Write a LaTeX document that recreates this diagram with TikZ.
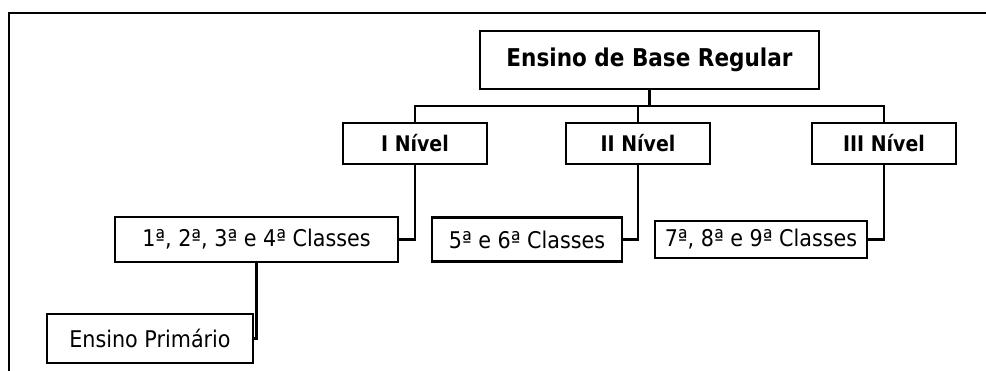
\documentclass[tikz,border=0pt]{standalone}
\usepackage{fontspec}
\setmainfont[FakeStretch=0.9]{DejaVu Sans}
\newfontfamily\narrowbold[FakeStretch=0.88]{DejaVu Sans Bold}
\usepackage{tikz}

\begin{document}
\begin{tikzpicture}[x=1pt, y=-1pt, line width=2.3pt,
    box/.style={draw, inner sep=0pt, font=\fontsize{23}{26}\selectfont},
    levelbox/.style={box, minimum width=144pt, minimum height=41pt, font=\fontsize{21.5}{24}\narrowbold},
    topbox/.style={box, minimum width=339pt, minimum height=58pt, font=\fontsize{24.5}{28}\narrowbold}]
      \useasboundingbox (0,0) rectangle (986,371);
      \draw (9,371) -- (9,13) -- (986,13);
      \node[topbox] (base) at (649.5,60) {Ensino de Base Regular};
      \node[levelbox] (nivel1) at (415,143.5) {I Nível};
      \node[levelbox] (nivel2) at (638,143.5) {II Nível};
      \node[levelbox] (nivel3) at (884,143.5) {III Nível};
      \node[box, minimum width=283pt, minimum height=45pt] (classes1) at (256.5,239.5) {1ª, 2ª, 3ª e 4ª Classes};
      \node[box, minimum width=190pt, minimum height=44pt] (classes2) at (527,239.5) {5ª e 6ª Classes};
      \node[box, minimum width=212pt, minimum height=37pt] (classes3) at (761,239.5) {7ª, 8ª e 9ª Classes};
      \node[box, minimum width=206pt, minimum height=49pt] (primario) at (150,338.5) {Ensino Primário};
      \coordinate (bar) at (649.5,106);
      \draw (base.south) -- (bar);
      \draw (nivel1.north) |- (bar) -| (nivel3.north);
      \draw (nivel2.north) -- (nivel2.north |- bar);
      \draw (nivel1.south) |- (classes1.east);
      \draw (nivel2.south) |- (classes2.east);
      \draw (nivel3.south) |- (classes3.east);
      \draw (classes1.south) |- (primario.east);
    \end{tikzpicture}
\end{document}
